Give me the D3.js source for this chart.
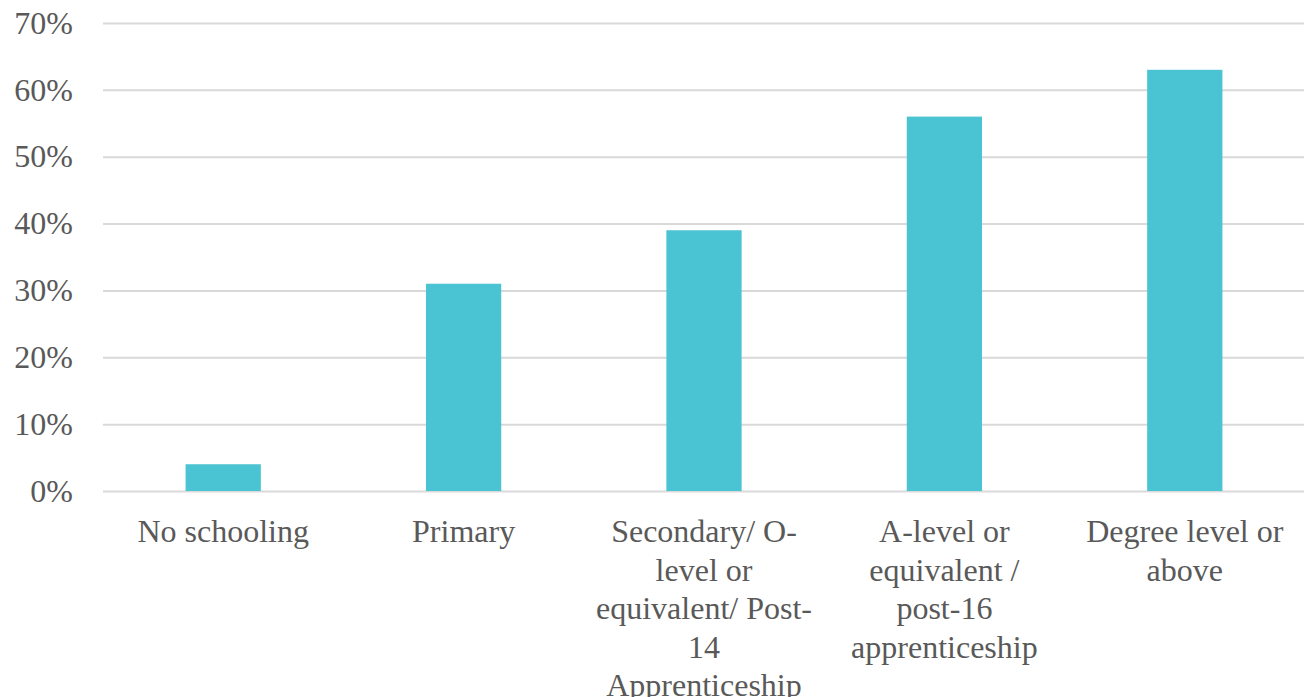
<!DOCTYPE html>
<html>
<head>
<meta charset="utf-8">
<script src="https://cdn.jsdelivr.net/npm/d3@7"></script>
<style>
  html, body { margin: 0; padding: 0; background: #fff; }
  svg { display: block; }
  .lbl { font-family: "Liberation Serif", serif; font-size: 32px; fill: #595959; }
</style>
</head>
<body>
<svg id="chart"></svg>
<script>
// data
var categories = ["No schooling", "Primary", "Secondary", "A-level", "Degree"];
var values = [0.04, 0.31, 0.39, 0.56, 0.63];
var catLabels = [
  ["No schooling"],
  ["Primary"],
  ["Secondary/ O-", "level or", "equivalent/ Post-", "14", "Apprenticeship"],
  ["A-level or", "equivalent /", "post-16", "apprenticeship"],
  ["Degree level or", "above"]
];
var yTicks = [0, 0.1, 0.2, 0.3, 0.4, 0.5, 0.6, 0.7];

var W = 1304, H = 697;
var margin = {top: 23, right: -1, bottom: 206, left: 103};
var width = W - margin.left - margin.right,
    height = H - margin.top - margin.bottom;

var svg = d3.select("#chart").attr("width", W).attr("height", H);
var g = svg.append("g").attr("transform", `translate(${margin.left},${margin.top})`);

var x = d3.scaleBand().domain(categories).range([0, width]).padding(0);
var y = d3.scaleLinear().domain([0, 0.7]).range([height, 0]);

/** grid + y labels */
var yAxis = g.append("g")
  .call(d3.axisLeft(y).tickValues(yTicks).tickSize(-width).tickPadding(30).tickFormat(d3.format(".0%")));
yAxis.select(".domain").remove();
yAxis.selectAll(".tick line").attr("stroke", "#d9d9d9").attr("stroke-width", 2);
yAxis.selectAll(".tick text").attr("class", "lbl").attr("font-family", null).attr("font-size", null).attr("fill", null);

/** bars */
var barW = x.bandwidth() * 0.313;
g.selectAll(".bar")
  .data(values)
  .join("rect")
  .attr("class", "bar")
  .attr("x", (d, i) => x(categories[i]) + x.bandwidth() / 2 - barW / 2)
  .attr("y", d => y(d))
  .attr("width", barW)
  .attr("height", d => y(0) - y(d))
  .attr("fill", "#4AC3D2");

/** category labels */
var xl = g.selectAll(".xlab")
  .data(catLabels)
  .join("text")
  .attr("class", "lbl xlab")
  .attr("text-anchor", "middle")
  .attr("transform", (d, i) => `translate(${x(categories[i]) + x.bandwidth() / 2},${height + 51})`);
xl.selectAll("tspan")
  .data(d => d)
  .join("tspan")
  .attr("x", 0)
  .attr("y", (d, i) => i * 38.5)
  .text(d => d);
</script>
</body>
</html>
